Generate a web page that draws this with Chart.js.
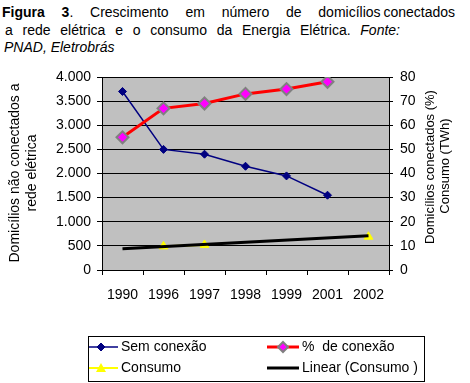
<!DOCTYPE html>
<html>
<head>
<meta charset="utf-8">
<script src="https://cdn.jsdelivr.net/npm/chart.js@4/dist/chart.umd.min.js"></script>
<style>
  body { margin:0; width:470px; height:383px; background:#fff; position:relative; overflow:hidden;
         font-family:"Liberation Sans", Arial, sans-serif; font-size:14px; color:#000; }
  .tl { position:absolute; white-space:nowrap; line-height:17px; text-align:justify; text-align-last:justify; }
  #wrap { position:absolute; left:0; top:0; width:470px; height:383px; }
</style>
</head>
<body>
<div class="tl" style="left:2px; top:4px; width:453px;"><b>Figura 3</b>. Crescimento em número de domicílios&#8201;conectados</div>
<div class="tl" style="left:5px; top:22px; width:395px;">a rede elétrica e o consumo da Energia Elétrica. <i>Fonte:</i></div>
<div class="tl" style="left:4px; top:39px; text-align:left; text-align-last:left;"><i>PNAD, Eletrobrás</i></div>
<div id="wrap"><canvas id="chart1"></canvas></div>
<script>
// data
var years = ['1990', '1996', '1997', '1998', '1999', '2001', '2002'];
var semConexao = [3700, 2500, 2400, 2150, 1950, 1550, null];   // left axis
var pctConexao = [55, 67, 69, 73, 75, 78, null];               // right axis (%)
var consumo = [null, 9.8, 10.4, null, null, null, 13.8];       // right axis (TWh)
var linearConsumo = [8.8, null, null, null, null, null, 14.2]; // trend line end points
var leftTicks = ['0', '500', '1.000', '1.500', '2.000', '2.500', '3.000', '3.500', '4.000'];

var FONT = '"Liberation Sans", Arial, sans-serif';

//gray plot background
var plotBg = {
    id: 'plotBg',
    beforeDraw: function(chart) {
        var a = chart.chartArea, ctx = chart.ctx;
        ctx.save();
        ctx.fillStyle = '#c0c0c0';
        ctx.fillRect(a.left, a.top, a.right - a.left, a.bottom - a.top);
        ctx.restore();
    }
};

//rotated axis titles
var axisTitles = {
    id: 'axisTitles',
    afterDraw: function(chart) {
        var ctx = chart.ctx;
        function vtext(txt, x, y) {
            ctx.save();
            ctx.translate(x, y);
            ctx.rotate(-Math.PI / 2);
            ctx.textAlign = 'center';
            ctx.textBaseline = 'middle';
            ctx.fillText(txt, 0, 0);
            ctx.restore();
        }
        ctx.save();
        ctx.fillStyle = '#000';
        ctx.font = '14px ' + FONT;
        vtext('Domicílios não conectados a', 15, 173);
        vtext('rede elétrica', 32, 173);
        ctx.font = '13px ' + FONT;
        vtext('Domicílios conectados (%)', 430, 167);
        vtext('Consumo (TWh)', 445, 166);
        ctx.restore();
    }
};

//legend box at the bottom, two columns
function diamond(ctx, x, y, r, fill, stroke, lw) {
    ctx.beginPath();
    ctx.moveTo(x, y - r); ctx.lineTo(x + r, y); ctx.lineTo(x, y + r); ctx.lineTo(x - r, y);
    ctx.closePath();
    ctx.fillStyle = fill; ctx.fill();
    ctx.lineWidth = lw; ctx.strokeStyle = stroke; ctx.stroke();
}
var boxLegend = {
    id: 'boxLegend',
    afterDraw: function(chart) {
        var ctx = chart.ctx;
        ctx.save();
        ctx.strokeStyle = '#000';
        ctx.lineWidth = 1;
        ctx.strokeRect(88.5, 336.5, 336, 45);
        ctx.font = '14px ' + FONT;
        ctx.textBaseline = 'middle';
        ctx.fillStyle = '#000';
        var r1 = 347, r2 = 368;
        function seg(x1, x2, y, col, w) {
            ctx.beginPath(); ctx.moveTo(x1, y); ctx.lineTo(x2, y);
            ctx.strokeStyle = col; ctx.lineWidth = w; ctx.stroke();
        }
        seg(89, 118, r1, '#000080', 1.5);
        diamond(ctx, 101, r1, 4, '#000080', '#000080', 1);
        seg(267, 299, r1, '#ff0000', 3);
        diamond(ctx, 283, r1, 5, '#ff00ff', '#808080', 2);
        seg(89, 118, r2, '#ffff00', 2);
        ctx.beginPath();
        ctx.moveTo(101, r2 - 5); ctx.lineTo(106, r2 + 4); ctx.lineTo(96, r2 + 4); ctx.closePath();
        ctx.fillStyle = '#ffff00'; ctx.fill();
        seg(267, 299, r2, '#000000', 3);
        ctx.fillStyle = '#000';
        ctx.fillText('Sem conexão', 121, r1);
        ctx.fillText('%  de conexão', 302, r1);
        ctx.fillText('Consumo', 121, r2);
        ctx.fillText('Linear (Consumo )', 302, r2);
        ctx.restore();
    }
};

var ctx = document.getElementById('chart1').getContext('2d');
new Chart(ctx, {
    type: 'line',
    data: {
        labels: years,
        datasets: [{
            label: 'Linear (Consumo )',
            data: linearConsumo,
            yAxisID: 'y1',
            borderColor: '#000000',
            borderWidth: 3,
            pointRadius: 0,
            spanGaps: true,
            order: 0
        }, {
            label: 'Consumo',
            data: consumo,
            yAxisID: 'y1',
            borderColor: '#ffff00',
            backgroundColor: '#ffff00',
            borderWidth: 2,
            pointStyle: 'triangle',
            pointRadius: 5,
            pointBorderWidth: 1,
            spanGaps: false,
            order: 1
        }, {
            label: '%  de conexão',
            data: pctConexao,
            yAxisID: 'y1',
            borderColor: '#ff0000',
            borderWidth: 3,
            pointStyle: 'rectRot',
            pointRadius: 6,
            pointBackgroundColor: '#ff00ff',
            pointBorderColor: '#808080',
            pointBorderWidth: 2,
            order: 2
        }, {
            label: 'Sem conexão',
            data: semConexao,
            yAxisID: 'y',
            borderColor: '#000080',
            backgroundColor: '#000080',
            borderWidth: 1.5,
            pointStyle: 'rectRot',
            pointRadius: 4,
            pointBorderWidth: 1,
            order: 3
        }]
    },
    options: {
        responsive: true,
        maintainAspectRatio: false,
        animation: false,
        layout: { padding: { top: 77, bottom: 83, left: 0, right: 0 } },
        plugins: {
            legend: { display: false },
            tooltip: { enabled: false }
        },
        elements: { line: { tension: 0 } },
        scales: {
            x: {
                offset: true,
                grid: { offset: true, drawOnChartArea: false, color: '#000', tickLength: 5, lineWidth: 1 },
                border: { color: '#000', width: 1 },
                ticks: { color: '#000', font: { family: FONT, size: 14 }, padding: 12, maxRotation: 0, autoSkip: false },
                afterFit: function(s) { s.height = 30; }
            },
            y: {
                position: 'left',
                min: 0, max: 4000,
                grid: { color: '#000', tickLength: 5, lineWidth: 1 },
                border: { color: '#000', width: 1 },
                ticks: {
                    stepSize: 500, color: '#000', padding: 6,
                    font: { family: FONT, size: 14 },
                    callback: function(v, i) { return leftTicks[i]; }
                },
                afterFit: function(s) { s.width = 102; }
            },
            y1: {
                position: 'right',
                min: 0, max: 80,
                grid: { drawOnChartArea: false, color: '#000', tickLength: 4, lineWidth: 1 },
                border: { color: '#000', width: 1 },
                ticks: { stepSize: 10, color: '#000', padding: 7, font: { family: FONT, size: 14 } },
                afterFit: function(s) { s.width = 81; }
            }
        }
    },
    plugins: [plotBg, axisTitles, boxLegend]
});
</script>
</body>
</html>
